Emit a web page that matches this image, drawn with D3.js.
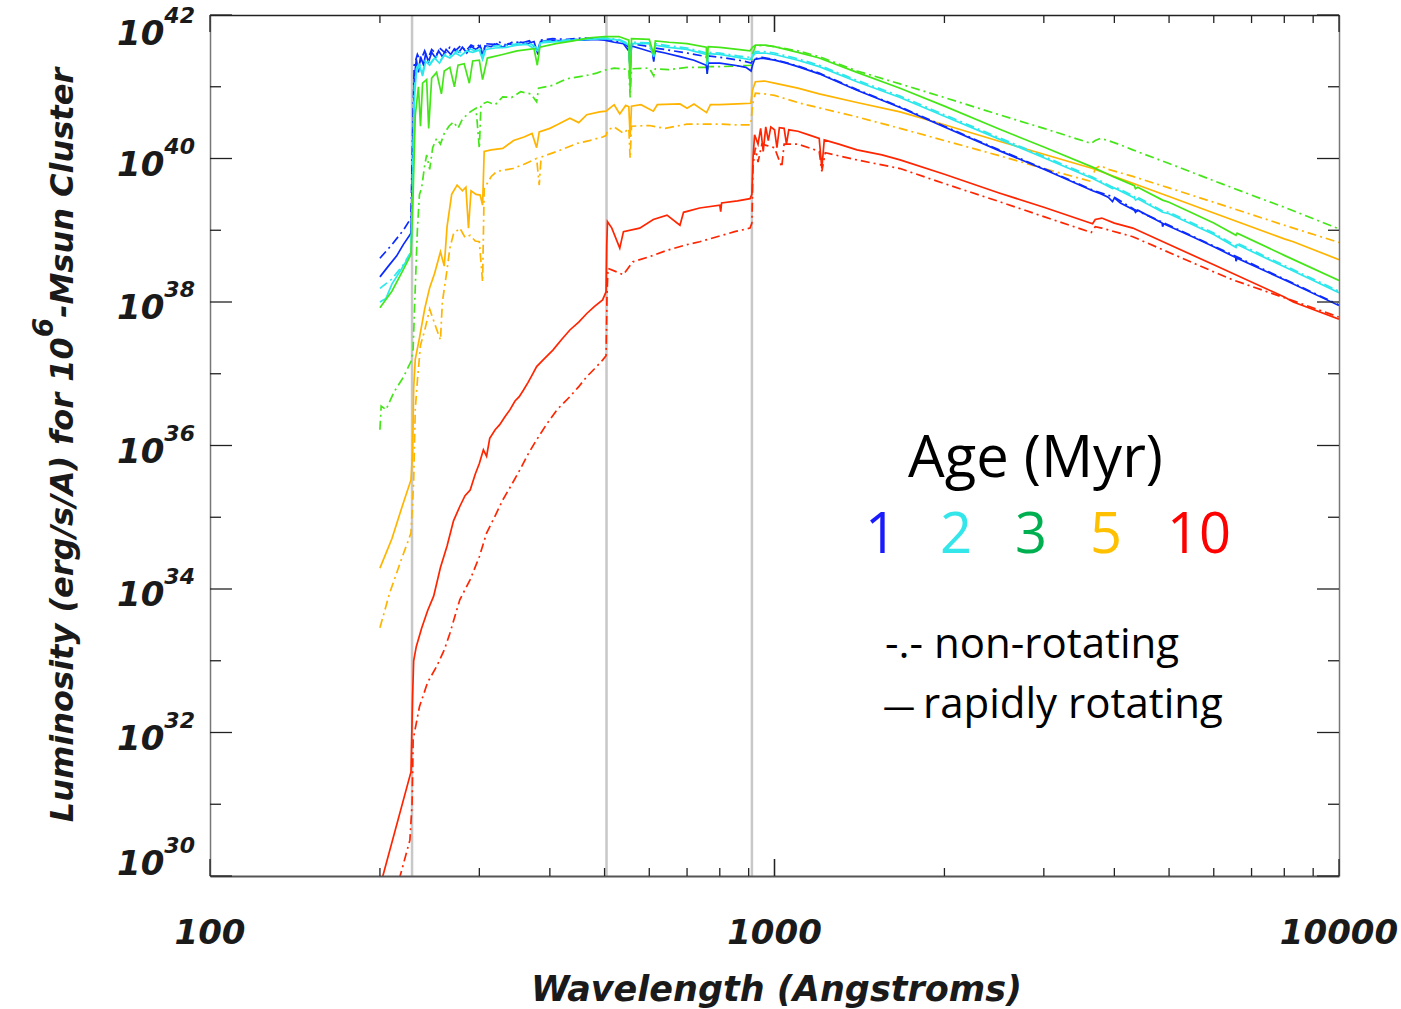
<!DOCTYPE html>
<html>
<head>
<meta charset="utf-8">
<script src="https://cdn.jsdelivr.net/npm/d3@7"></script>
<style>
body { margin: 0; background: #fff; }
.tick-label, .axis-title { font-family: "DejaVu Sans", sans-serif; font-weight: bold; font-style: italic; fill: #1a1a1a; }
.legend { font-family: "Open Sans", sans-serif; fill: #000; }
</style>
</head>
<body>
<div id="chart"></div>
<script>
// canvas + plot box
var svgWidth = 1401;
var svgHeight = 1009;
var margin = { top: 15, right: 62, bottom: 133, left: 210 };
var w = svgWidth - margin.left - margin.right;
var h = svgHeight - margin.top - margin.bottom;

// tick labels / categories
var xTickValues = [100, 1000, 10000];
var yTickExps = [30, 32, 34, 36, 38, 40, 42];
var edgeLines = [228, 504, 912];
var ages = ["1", "2", "3", "5", "10"];
var lineColors = ["#0b2bff", "#2ce8ec", "#45e619", "#ffb400", "#ff2500"];
var labelColors = ["#1a1aff", "#33e6ea", "#00b050", "#ffc000", "#ff0000"];

// spectra: [wavelength (A), log10 L]
var age1Rot = [[200,38.35],[207,38.5],[214,38.64],[220,38.8],[227,38.96],[228.5,39.9],[230,41.1],[232,41.38],[234,41.2],[236,41.42],[239,41.3],[241,41.46],[244,41.35],[247,41.48],[251,41.4],[254,41.5],[258,41.42],[262,41.52],[267,41.45],[271,41.53],[276,41.48],[280,41.55],[285,41.47],[290,41.56],[296,41.52],[301,41.57],[304,41.4],[307,41.57],[315,41.56],[322,41.6],[330,41.55],[338,41.6],[347,41.58],[355,41.62],[365,41.6],[375,41.63],[381,41.45],[385,41.63],[400,41.65],[420,41.64],[440,41.66],[460,41.65],[480,41.66],[500,41.65],[520,41.62],[540,41.6],[552,41.5],[555,41.25],[558,41.57],[580,41.53],[608,41.48],[611,41.35],[614,41.5],[640,41.47],[680,41.42],[720,41.37],[757,41.3],[760,41.18],[763,41.33],[800,41.33],[850,41.3],[890,41.27],[909,41.22],[914,41.3],[922,41.38],[950,41.4],[1000,41.37],[1050,41.33],[1100,41.28],[1200,41.18],[1400,40.95],[1669,40.71],[2000,40.44],[2500,40.11],[3000,39.85],[3660,39.55],[3780,39.51],[3900,39.46],[3970,39.4],[4000,39.45],[4100,39.38],[4340,39.28],[4360,39.25],[4400,39.28],[4860,39.1],[4870,39.05],[4890,39.09],[5500,38.91],[6000,38.77],[6560,38.62],[6570,38.57],[6600,38.61],[8000,38.31],[10000,37.95]];
var age1Non = [[200,38.61],[210,38.8],[220,39.0],[227,39.17],[228.5,40.3],[230,41.3],[233,41.45],[236,41.36],[240,41.5],[243,41.38],[247,41.52],[252,41.45],[256,41.53],[261,41.47],[266,41.55],[272,41.5],[278,41.57],[284,41.5],[290,41.58],[296,41.55],[301,41.59],[304,41.45],[308,41.6],[318,41.59],[326,41.62],[335,41.58],[345,41.63],[356,41.61],[368,41.64],[381,41.5],[385,41.65],[405,41.67],[430,41.66],[455,41.68],[480,41.67],[500,41.67],[520,41.64],[540,41.62],[552,41.55],[555,41.28],[558,41.6],[590,41.57],[608,41.52],[611,41.38],[614,41.54],[650,41.51],[700,41.47],[757,41.42],[760,41.25],[763,41.43],[820,41.4],[880,41.36],[909,41.33],[914,41.36],[922,41.39],[950,41.41],[1000,41.38],[1100,41.29],[1200,41.19],[1400,40.96],[1669,40.72],[2000,40.45],[2500,40.12],[3000,39.86],[3660,39.56],[4000,39.46],[4340,39.29],[5000,39.07],[6000,38.78],[8000,38.32],[10000,37.96]];
var age2Rot = [[200,38.0],[205,38.05],[210,38.25],[218,38.45],[227,38.68],[228.5,39.5],[230,40.8],[232,41.2],[235,41.3],[238,41.15],[241,41.35],[245,41.3],[250,41.4],[255,41.33],[260,41.44],[266,41.4],[272,41.47],[278,41.43],[285,41.5],[292,41.48],[300,41.51],[304,41.38],[308,41.52],[320,41.54],[335,41.55],[350,41.58],[365,41.59],[381,41.5],[385,41.61],[410,41.63],[440,41.65],[470,41.66],[500,41.67],[530,41.65],[552,41.58],[555,41.2],[558,41.6],[600,41.6],[611,41.42],[615,41.58],[650,41.55],[700,41.52],[757,41.45],[760,41.3],[763,41.46],[800,41.45],[860,41.41],[905,41.38],[914,41.42],[925,41.47],[960,41.47],[1000,41.45],[1100,41.37],[1200,41.28],[1400,41.07],[1669,40.85],[2000,40.59],[2500,40.27],[3000,40.01],[3660,39.72],[3800,39.66],[3970,39.58],[4000,39.59],[4340,39.45],[4360,39.42],[4400,39.44],[4870,39.25],[5000,39.23],[6000,38.94],[6570,38.76],[6600,38.8],[8000,38.49],[10000,38.13]];
var age2Non = [[200,38.19],[210,38.32],[220,38.52],[227,38.7],[228.5,39.7],[230,40.95],[232,41.25],[235,41.34],[238,41.2],[241,41.39],[246,41.33],[251,41.43],[256,41.37],[262,41.47],[268,41.42],[274,41.5],[281,41.46],[288,41.53],[295,41.5],[301,41.54],[304,41.42],[308,41.55],[322,41.57],[338,41.58],[352,41.6],[368,41.61],[381,41.53],[385,41.63],[412,41.64],[444,41.66],[472,41.67],[500,41.68],[530,41.66],[552,41.6],[555,41.22],[558,41.62],[600,41.61],[611,41.45],[615,41.6],[650,41.57],[700,41.54],[757,41.47],[760,41.32],[763,41.48],[800,41.47],[860,41.43],[905,41.41],[914,41.44],[925,41.49],[960,41.49],[1000,41.47],[1100,41.39],[1200,41.3],[1400,41.09],[1669,40.87],[2000,40.61],[2500,40.29],[3000,40.03],[3660,39.74],[3800,39.68],[3970,39.6],[4000,39.61],[4340,39.47],[4360,39.44],[4400,39.46],[4870,39.27],[5000,39.25],[6000,38.96],[6570,38.78],[6600,38.82],[8000,38.51],[10000,38.15]];
var age3Rot = [[200,37.92],[210,38.15],[220,38.45],[227,38.66],[229,39.5],[231,40.6],[234,41.0],[236,40.45],[238,41.05],[242,41.1],[244,40.42],[247,41.12],[252,41.2],[257,40.9],[260,41.22],[266,41.27],[271,41.0],[275,41.3],[282,41.32],[288,41.05],[292,41.36],[300,41.37],[304,41.1],[310,41.4],[330,41.45],[350,41.5],[375,41.53],[380,41.3],[384,41.55],[410,41.6],[440,41.64],[470,41.68],[500,41.7],[530,41.7],[552,41.65],[555,40.95],[558,41.67],[600,41.66],[611,41.45],[615,41.64],[650,41.62],[700,41.6],[757,41.55],[760,41.35],[763,41.56],[800,41.55],[860,41.52],[905,41.5],[914,41.55],[925,41.58],[960,41.58],[1000,41.56],[1100,41.48],[1200,41.4],[1400,41.2],[1669,40.98],[2000,40.73],[2500,40.41],[3000,40.16],[3660,39.88],[4000,39.74],[4340,39.62],[4360,39.58],[4400,39.6],[4870,39.42],[5000,39.39],[6000,39.1],[6570,38.93],[6600,38.96],[8000,38.65],[10000,38.3]];
var age3Non = [[200,36.22],[201,36.55],[205,36.5],[212,36.75],[220,36.95],[227,37.17],[229,37.35],[231,38.2],[233,39.0],[235,39.5],[237,39.58],[240,39.9],[242,40.05],[245,39.85],[248,40.15],[252,40.28],[256,40.2],[260,40.35],[265,40.45],[270,40.51],[275,40.42],[280,40.55],[289,40.65],[296,40.7],[300,40.14],[302,40.75],[310,40.79],[320,40.75],[330,40.86],[342,40.85],[355,40.93],[370,40.9],[379,40.79],[382,40.98],[405,41.02],[420,41.08],[434,41.12],[460,41.15],[484,41.19],[500,41.23],[520,41.26],[552,41.24],[555,40.85],[558,41.25],[600,41.26],[611,41.15],[615,41.25],[650,41.24],[700,41.27],[757,41.27],[760,41.18],[763,41.28],[800,41.28],[860,41.29],[909,41.3],[914,41.45],[925,41.57],[960,41.58],[1000,41.56],[1100,41.5],[1200,41.42],[1400,41.22],[1669,41.04],[2000,40.85],[2500,40.61],[3000,40.42],[3640,40.21],[3700,40.25],[3780,40.28],[3900,40.25],[4100,40.19],[4313,40.12],[5000,39.93],[6000,39.69],[7000,39.49],[8000,39.32],[10000,39.02]];
var age5Rot = [[200,34.29],[210,34.7],[220,35.2],[227,35.52],[228.5,35.9],[229.5,36.8],[231,37.2],[235,37.5],[240,37.9],[245,38.2],[250,38.4],[256,38.7],[260,38.5],[263,39.05],[268,39.5],[274,39.63],[280,39.55],[284,39.6],[287,39.03],[290,39.55],[296,39.5],[301,39.49],[304,39.35],[306,40.1],[315,40.12],[330,40.14],[345,40.25],[360,40.3],[372,40.35],[379,40.15],[383,40.37],[400,40.42],[412,40.47],[434,40.56],[450,40.5],[465,40.61],[490,40.65],[503,40.66],[520,40.75],[532,40.62],[545,40.74],[552,40.72],[555,40.3],[558,40.73],[580,40.75],[610,40.66],[620,40.75],[680,40.76],[700,40.7],[720,40.76],[758,40.64],[770,40.75],[800,40.75],[860,40.76],[908,40.77],[914,40.95],[925,41.07],[960,41.08],[1000,41.05],[1100,40.98],[1200,40.9],[1400,40.78],[1669,40.65],[2000,40.47],[2500,40.24],[3000,40.06],[3660,39.86],[4000,39.75],[5000,39.47],[6000,39.24],[8000,38.88],[8300,38.84],[10000,38.59]];
var age5Non = [[200,33.46],[208,33.94],[218,34.4],[227,34.78],[229.5,35.5],[231,36.5],[233,36.9],[236,37.4],[240,37.6],[245,37.9],[250,37.7],[256,37.47],[258,38.0],[263,38.45],[266,38.75],[270,38.95],[277,39.03],[283,38.9],[289,38.93],[295,38.85],[300,38.84],[304,38.28],[306,39.58],[315,39.75],[322,39.82],[344,39.86],[360,39.92],[379,40.0],[383,39.63],[386,40.02],[412,40.1],[447,40.21],[470,40.25],[496,40.3],[503,40.32],[507,40.4],[520,40.44],[540,40.35],[552,40.42],[555,40.0],[558,40.45],[600,40.46],[640,40.42],[700,40.48],[800,40.48],[850,40.47],[908,40.47],[914,40.75],[925,40.91],[960,40.9],[1000,40.88],[1110,40.77],[1400,40.58],[1669,40.42],[2000,40.25],[2500,40.04],[3000,39.86],[3640,39.68],[3700,39.86],[3780,39.9],[3900,39.85],[4100,39.8],[4313,39.75],[5000,39.59],[6000,39.39],[8000,39.07],[10000,38.83]];
var age10Rot = [[200,29.85],[227,31.45],[228.5,32.5],[229.5,33.0],[232,33.2],[237,33.45],[243,33.7],[249,33.9],[256,34.3],[263,34.6],[270,34.95],[277,35.15],[283,35.3],[289,35.38],[295,35.6],[300,35.75],[305,35.94],[309,35.85],[313,36.1],[320,36.22],[326,36.29],[333,36.4],[340,36.5],[347,36.62],[353,36.68],[359,36.77],[366,36.88],[372,36.98],[379,37.1],[390,37.2],[405,37.33],[420,37.48],[434,37.61],[450,37.72],[465,37.84],[480,37.94],[496,38.03],[503,38.14],[504.5,38.8],[506,39.12],[515,39.03],[532,38.75],[540,38.98],[577,39.03],[610,39.15],[645,39.21],[680,39.07],[690,39.25],[737,39.31],[800,39.35],[803,39.26],[806,39.38],[860,39.41],[905,39.44],[912,39.5],[916,40.0],[922,40.33],[935,40.2],[945,40.42],[955,40.1],[965,40.44],[975,40.25],[985,40.44],[1000,40.4],[1010,40.15],[1020,40.43],[1040,40.42],[1050,40.2],[1060,40.4],[1100,40.38],[1150,40.33],[1200,40.28],[1213,39.86],[1225,40.26],[1300,40.2],[1400,40.12],[1550,40.05],[1669,39.98],[2000,39.78],[2500,39.52],[3000,39.32],[3660,39.09],[3700,39.15],[3800,39.17],[4000,39.1],[4313,39.03],[5000,38.8],[6000,38.52],[8000,38.07],[8300,38.0],[10000,37.76]];
var age10Non = [[200,29.2],[217,29.99],[226,30.5],[228,31.0],[229,31.9],[235,32.36],[243,32.7],[252,32.92],[260,33.15],[266,33.38],[277,33.85],[289,34.13],[300,34.45],[309,34.78],[320,35.02],[330,35.24],[342,35.45],[354,35.66],[366,35.88],[379,36.08],[395,36.3],[412,36.5],[434,36.68],[450,36.82],[465,36.96],[480,37.07],[496,37.19],[503,37.25],[505,38.1],[507,38.47],[540,38.38],[561,38.56],[600,38.63],[645,38.72],[700,38.8],[737,38.84],[800,38.92],[850,38.98],[905,39.03],[912,39.1],[916,39.9],[925,40.15],[935,39.95],[950,40.2],[970,40.18],[1000,40.15],[1030,39.88],[1040,40.2],[1100,40.2],[1150,40.15],[1200,40.1],[1213,39.82],[1230,40.08],[1400,39.98],[1669,39.86],[2000,39.65],[2500,39.4],[3000,39.19],[3640,38.97],[3700,39.05],[3800,39.03],[4313,38.91],[5000,38.69],[6000,38.42],[6476,38.31],[8000,38.06],[10000,37.79]];

var series = [
    { data: age10Rot, age: 4, dashed: false }, { data: age10Non, age: 4, dashed: true },
    { data: age5Rot, age: 3, dashed: false }, { data: age5Non, age: 3, dashed: true },
    { data: age3Non, age: 2, dashed: true }, { data: age1Non, age: 0, dashed: true },
    { data: age1Rot, age: 0, dashed: false }, { data: age2Rot, age: 1, dashed: false },
    { data: age2Non, age: 1, dashed: true }, { data: age3Rot, age: 2, dashed: false }
];

var svg = d3.select("#chart")
    .append("svg")
    .attr("width", svgWidth)
    .attr("height", svgHeight);

var chartGroup = svg.append("g")
    .attr("transform", `translate(${margin.left}, ${margin.top})`);

// log scales
var x = d3.scaleLog().domain([100, 10000]).range([0, w]);
var y = d3.scaleLog().domain([1e30, 1e42]).range([h, 0]);

chartGroup.append("clipPath").attr("id", "plotclip")
    .append("rect").attr("width", w).attr("height", h);

// gray edge markers
chartGroup.selectAll(".edge")
    .data(edgeLines)
    .enter()
    .append("line")
    .attr("x1", d => x(d)).attr("x2", d => x(d))
    .attr("y1", 0).attr("y2", h)
    .attr("stroke", "#c8c8c8")
    .attr("stroke-width", 2.5);

var line = d3.line()
    .x(d => x(d[0]))
    .y(d => y(Math.pow(10, d[1])));

chartGroup.append("g").attr("clip-path", "url(#plotclip)")
    .selectAll("path")
    .data(series)
    .enter()
    .append("path")
    .attr("d", d => line(d.data))
    .attr("fill", "none")
    .attr("stroke", d => lineColors[d.age])
    .attr("stroke-width", 1.7)
    .attr("stroke-dasharray", d => d.dashed ? "9,4,2,4" : null);

// axes: ticks on all four sides, pointing inwards
var yMajor = d3.range(30, 43).map(e => Math.pow(10, e));
var xMinor = [];
[100, 1000].forEach(function (dec) {
    for (var k = 1; k <= 10; k++) xMinor.push(dec * k);
});

chartGroup.append("g").call(d3.axisLeft(y).tickValues(yMajor)
        .tickSizeInner(0).tickSizeOuter(0).tickFormat(""))
    .call(g => g.select(".domain").attr("stroke", "#777").attr("stroke-width", 1.5));
chartGroup.append("g").attr("transform", `translate(${w},0)`)
    .call(d3.axisRight(y).tickValues(yMajor).tickSizeInner(0).tickSizeOuter(0).tickFormat(""))
    .call(g => g.select(".domain").attr("stroke", "#777").attr("stroke-width", 1.5));
chartGroup.append("g").attr("transform", `translate(0,${h})`)
    .call(d3.axisBottom(x).tickValues(xMinor).tickSizeInner(0).tickSizeOuter(0).tickFormat(""))
    .call(g => g.select(".domain").attr("stroke", "#555").attr("stroke-width", 2));
chartGroup.append("g")
    .call(d3.axisTop(x).tickValues(xMinor).tickSizeInner(0).tickSizeOuter(0).tickFormat(""))
    .call(g => g.select(".domain").attr("stroke", "#222").attr("stroke-width", 1.5));

var tickG = chartGroup.append("g").attr("stroke", "#222").attr("stroke-width", 1.3);
yMajor.forEach(function (v, i) {
    var len = (i % 2 === 0) ? 22 : 11;
    tickG.append("line").attr("x1", 0).attr("x2", len).attr("y1", y(v)).attr("y2", y(v));
    tickG.append("line").attr("x1", w).attr("x2", w - len).attr("y1", y(v)).attr("y2", y(v));
});
xMinor.forEach(function (v) {
    var len = xTickValues.indexOf(v) >= 0 ? 17 : 8;
    tickG.append("line").attr("x1", x(v)).attr("x2", x(v)).attr("y1", h).attr("y2", h - len);
    tickG.append("line").attr("x1", x(v)).attr("x2", x(v)).attr("y1", 0).attr("y2", len);
});

// y tick labels 10^n
yTickExps.forEach(function (e) {
    var base = Math.max(30, Math.min(h - 1, y(Math.pow(10, e)) + 17));
    var t = chartGroup.append("text")
        .attr("class", "tick-label")
        .attr("x", -93).attr("y", base)
        .style("font-size", "34px");
    t.append("tspan").text("10");
    t.append("tspan").attr("dy", -22).style("font-size", "22px").text(e);
});

// x tick labels
chartGroup.selectAll(".xlab")
    .data(xTickValues)
    .enter()
    .append("text")
    .attr("class", "tick-label")
    .attr("x", d => x(d)).attr("y", h + 68)
    .attr("text-anchor", "middle")
    .style("font-size", "34px")
    .text(d => d);

// axis titles
chartGroup.append("text")
    .attr("class", "axis-title")
    .attr("x", w / 2 + 2).attr("y", h + 125)
    .attr("text-anchor", "middle")
    .style("font-size", "35px")
    .text("Wavelength (Angstroms)");

var yTitle = svg.append("text")
    .attr("class", "axis-title")
    .attr("transform", "translate(73, 445) rotate(-90)")
    .attr("text-anchor", "middle")
    .style("font-size", "32px");
yTitle.append("tspan").text("Luminosity (erg/s/A) for 10");
yTitle.append("tspan").attr("dy", -20).style("font-size", "28px").text("6");
yTitle.append("tspan").attr("dy", 20).text("-Msun Cluster");

// legend
svg.append("text").attr("class", "legend")
    .attr("x", 908).attr("y", 477)
    .style("font-size", "58px")
    .text("Age (Myr)");

var numX = [881, 956, 1031, 1106, 1199];
svg.selectAll(".agenum")
    .data(ages)
    .enter()
    .append("text")
    .attr("class", "legend")
    .attr("x", (d, i) => numX[i]).attr("y", 553)
    .attr("text-anchor", "middle")
    .style("font-size", "56px")
    .style("fill", (d, i) => labelColors[i])
    .text(d => d);

svg.append("text").attr("class", "legend")
    .attr("x", 885).attr("y", 658)
    .style("font-size", "42px")
    .text("-.- non-rotating");

var rotText = svg.append("text").attr("class", "legend")
    .attr("x", 883).attr("y", 718)
    .style("font-size", "42px");
rotText.append("tspan").style("font-size", "32px").text("\u2014");
rotText.append("tspan").attr("dx", 8).text("rapidly rotating");
</script>
</body>
</html>
